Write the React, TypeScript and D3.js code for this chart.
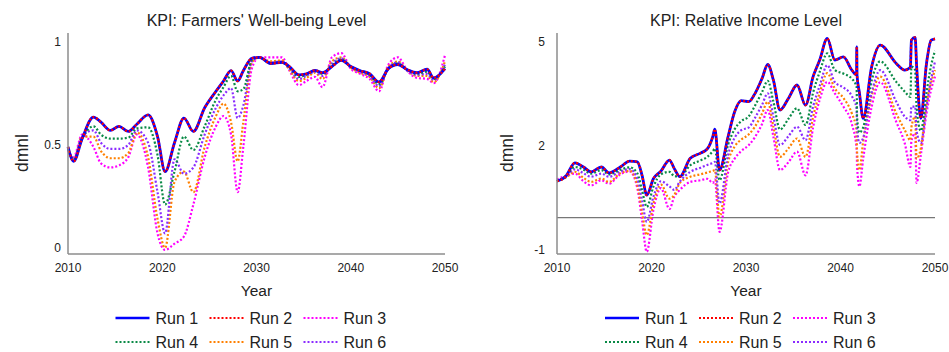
import React from "react";
import * as d3 from "d3";

// ---- data ----
const runNames = ["Run 1", "Run 2", "Run 3", "Run 4", "Run 5", "Run 6"];
const runColors = ["#0000ff", "#ff0000", "#ff00ff", "#0a8a46", "#ff8000", "#8b2cff"];

const wellYears = [2010, 2010.6, 2011.5, 2012.7, 2013.5, 2014.5, 2015.4, 2016.4, 2017.3, 2018.5, 2019.5, 2020.3, 2021.3, 2022.3, 2023.3, 2024.5, 2025.7, 2026.5, 2027.3, 2028.0, 2028.6, 2029.5, 2030.3, 2031.5, 2032.7, 2033.5, 2034.5, 2035.3, 2036.2, 2037.0, 2038.0, 2039.0, 2040.0, 2041.0, 2042.0, 2043.0, 2044.0, 2045.0, 2046.0, 2047.0, 2048.1, 2048.8, 2050];
const wellRun1 = [0.50, 0.43, 0.54, 0.645, 0.62, 0.58, 0.60, 0.575, 0.61, 0.655, 0.55, 0.38, 0.52, 0.64, 0.575, 0.69, 0.77, 0.82, 0.87, 0.82, 0.87, 0.93, 0.935, 0.905, 0.91, 0.89, 0.85, 0.855, 0.872, 0.86, 0.89, 0.92, 0.89, 0.87, 0.855, 0.815, 0.88, 0.90, 0.875, 0.86, 0.877, 0.835, 0.88];
const wellRun2 = wellRun1;
const wellRun3 = [0.48, 0.45, 0.56, 0.50, 0.42, 0.40, 0.41, 0.45, 0.56, 0.40, 0.08, 0.0, 0.03, 0.065, 0.22, 0.45, 0.60, 0.65, 0.56, 0.28, 0.50, 0.88, 0.935, 0.935, 0.935, 0.87, 0.80, 0.82, 0.84, 0.79, 0.935, 0.955, 0.88, 0.855, 0.83, 0.77, 0.9, 0.935, 0.87, 0.835, 0.83, 0.81, 0.945];
const wellRun4 = [0.49, 0.44, 0.54, 0.60, 0.56, 0.54, 0.54, 0.545, 0.59, 0.595, 0.46, 0.22, 0.38, 0.55, 0.485, 0.60, 0.73, 0.79, 0.845, 0.77, 0.78, 0.92, 0.935, 0.905, 0.91, 0.885, 0.84, 0.85, 0.87, 0.855, 0.895, 0.925, 0.89, 0.87, 0.85, 0.805, 0.88, 0.905, 0.875, 0.855, 0.865, 0.83, 0.89];
const wellRun5 = [0.49, 0.44, 0.55, 0.55, 0.48, 0.445, 0.445, 0.47, 0.57, 0.45, 0.15, 0.01, 0.33, 0.38, 0.28, 0.50, 0.65, 0.71, 0.62, 0.43, 0.62, 0.91, 0.935, 0.915, 0.92, 0.875, 0.82, 0.835, 0.86, 0.83, 0.915, 0.935, 0.885, 0.86, 0.84, 0.785, 0.89, 0.915, 0.87, 0.845, 0.845, 0.815, 0.915];
const wellRun6 = [0.49, 0.44, 0.55, 0.58, 0.52, 0.49, 0.49, 0.51, 0.58, 0.52, 0.28, 0.08, 0.44, 0.37, 0.40, 0.56, 0.69, 0.75, 0.785, 0.64, 0.70, 0.915, 0.935, 0.91, 0.915, 0.88, 0.83, 0.845, 0.865, 0.845, 0.905, 0.93, 0.89, 0.865, 0.845, 0.795, 0.885, 0.91, 0.87, 0.85, 0.855, 0.825, 0.90];

const incomeYears = [2010, 2010.9, 2011.9, 2012.8, 2013.6, 2014.7, 2015.5, 2016.7, 2017.7, 2018.5, 2019.0, 2019.5, 2020.2, 2021.0, 2021.9, 2022.4, 2023.0, 2024.1, 2025.2, 2025.9, 2026.5, 2026.7, 2027.2, 2028.1, 2028.8, 2029.5, 2030.3, 2030.9, 2031.7, 2032.3, 2032.9, 2033.6, 2034.5, 2035.4, 2036.3, 2037.1, 2037.8, 2038.6, 2039.4, 2040.3, 2041.2, 2041.7, 2041.72, 2041.75, 2042.0, 2042.4, 2043.3, 2044.2, 2045.9, 2046.8, 2047.4, 2047.5, 2047.9, 2048.05, 2048.5, 2049.1, 2049.6, 2050];
const incomeRun1 = [1.05, 1.18, 1.58, 1.46, 1.32, 1.46, 1.29, 1.46, 1.63, 1.61, 1.22, 0.65, 1.12, 1.34, 1.66, 1.42, 1.18, 1.71, 1.86, 1.98, 2.35, 2.55, 1.37, 2.33, 3.05, 3.37, 3.34, 3.55, 4.01, 4.41, 3.96, 3.10, 3.44, 3.82, 3.24, 4.06, 4.54, 5.16, 4.54, 4.63, 4.25, 4.11, 4.92, 4.10, 3.6, 2.86, 4.35, 4.97, 4.44, 4.25, 4.33, 5.11, 5.19, 4.4, 2.86, 4.44, 5.11, 5.15];
const incomeRun2 = incomeRun1;
const incomeRun3 = [1.1, 1.2, 1.27, 1.05, 0.93, 1.08, 0.98, 1.25, 1.33, 0.85, -0.07, -0.98, 0.22, 0.85, 0.25, 0.6, 0.8, 1.03, 1.08, 1.12, 1.0, 1.1, -0.41, 1.3, 1.7, 1.92, 2.09, 2.3, 2.7, 3.10, 2.33, 1.37, 1.6, 1.9, 1.22, 2.6, 3.4, 3.91, 3.58, 3.2, 2.7, 2.0, 1.9, 1.5, 0.9, 1.7, 3.2, 3.9, 2.76, 2.14, 1.46, 2.2, 2.43, 1.0, 1.8, 3.0, 3.7, 4.06];
const incomeRun4 = [1.05, 1.2, 1.46, 1.38, 1.27, 1.37, 1.25, 1.38, 1.45, 1.28, 0.79, 0.31, 0.89, 1.25, 1.32, 1.2, 1.18, 1.51, 1.65, 1.75, 1.92, 1.99, 1.08, 2.10, 2.55, 2.78, 2.92, 3.2, 3.62, 3.94, 3.34, 2.54, 2.85, 3.15, 2.67, 3.6, 4.2, 4.73, 4.25, 4.15, 4.0, 3.77, 3.6, 2.9, 2.45, 2.6, 3.95, 4.5, 3.91, 3.63, 3.48, 4.35, 4.25, 3.2, 2.5, 3.6, 4.4, 4.8];
const incomeRun5 = [1.05, 1.15, 1.32, 1.15, 1.03, 1.13, 1.03, 1.28, 1.35, 0.95, 0.17, -0.50, 0.41, 0.95, 0.55, 0.65, 1.0, 1.18, 1.25, 1.30, 1.35, 1.37, 0.02, 1.60, 2.05, 2.25, 2.40, 2.6, 3.0, 3.34, 2.62, 1.75, 2.0, 2.28, 1.75, 2.9, 3.6, 4.16, 3.72, 3.45, 3.0, 2.52, 2.3, 1.9, 1.37, 2.2, 3.5, 4.06, 3.0, 2.52, 2.23, 2.6, 2.91, 1.7, 2.0, 3.3, 3.9, 4.25];
const incomeRun6 = [1.05, 1.18, 1.39, 1.28, 1.18, 1.27, 1.18, 1.33, 1.40, 1.12, 0.50, -0.12, 0.6, 1.05, 0.9, 0.8, 1.04, 1.32, 1.44, 1.52, 1.58, 1.61, 0.41, 1.80, 2.30, 2.52, 2.60, 2.85, 3.25, 3.58, 2.91, 2.09, 2.35, 2.62, 2.23, 3.2, 3.8, 4.39, 3.9, 3.75, 3.5, 3.15, 3.0, 2.6, 2.15, 2.3, 3.6, 4.25, 3.34, 2.91, 2.81, 3.2, 3.2, 2.5, 2.15, 3.2, 4.0, 4.49];

const xTicks = [2010, 2020, 2030, 2040, 2050];
const wellTicks = [0, 0.5, 1];
const wellTickLabels = ["0", "0.5", "1"];
const incomeTicks = [-1, 2, 5];
const incomeTickLabels = ["-1", "2", "5"];

const FONT = "'Liberation Sans', Arial, Helvetica, sans-serif";
const drawOrder = [2, 4, 5, 3, 0, 1];

type PanelProps = {
  left: number;
  right: number;
  title: string;
  years: number[];
  runs: number[][];
  yDomain: [number, number];
  ticks: number[];
  tickLabels: string[];
  tickLabelX: number;
  yLabelX: number;
  zeroLine?: boolean;
};

function Panel({ left, right, title, years, runs, yDomain, ticks, tickLabels, tickLabelX, yLabelX, zeroLine }: PanelProps) {
  const top = 33;
  const bottom = 254;
  const x = d3.scaleLinear().domain([2010, 2050]).range([left, right]);
  const y = d3.scaleLinear().domain(yDomain).range([bottom, top]);
  const line = d3
    .line<number>()
    .x((_, i) => x(years[i]))
    .y((d) => y(d))
    .curve(d3.curveMonotoneX);
  const cx = (left + right) / 2;

  return (
    <g fontFamily={FONT} fill="#222">
      <text x={cx} y={20} textAnchor="middle" dominantBaseline="central" fontSize={16}>
        {title}
      </text>
      {zeroLine && (
        <line x1={left} x2={right} y1={y(0)} y2={y(0)} stroke="#777" strokeWidth={1.2} />
      )}
      {drawOrder.map((r) => (
        <path
          key={r}
          d={line(runs[r]) || ""}
          fill="none"
          stroke={runColors[r]}
          strokeWidth={r === 0 ? 2.8 : 2.2}
          strokeDasharray={r === 0 ? undefined : "2 2"}
        />
      ))}
      <line x1={left} x2={left} y1={top} y2={bottom} stroke="#8c8c8c" strokeWidth={1.5} />
      <line x1={left} x2={right} y1={bottom} y2={bottom} stroke="#8c8c8c" strokeWidth={1.5} />
      {ticks.map((t, i) => (
        <text key={t} x={tickLabelX} y={y(t) - 2} textAnchor="end" dominantBaseline="central" fontSize={12}>
          {tickLabels[i]}
        </text>
      ))}
      {xTicks.map((t) => (
        <text key={t} x={x(t)} y={268} textAnchor="middle" dominantBaseline="central" fontSize={12}>
          {t}
        </text>
      ))}
      <text
        transform={`translate(${yLabelX},153) rotate(-90)`}
        textAnchor="middle"
        dominantBaseline="central"
        fontSize={17.5}
      >
        dmnl
      </text>
      <text x={cx} y={290} textAnchor="middle" dominantBaseline="central" fontSize={15.5}>
        Year
      </text>
      {runNames.map((name, i) => {
        const col = i % 3;
        const row = Math.floor(i / 3);
        const lx = cx - 141 + col * 94;
        const ly = 318 + row * 24;
        return (
          <g key={name}>
            <line
              x1={lx}
              x2={lx + 34}
              y1={ly}
              y2={ly}
              stroke={runColors[i]}
              strokeWidth={i === 0 ? 2.4 : 2.2}
              strokeDasharray={i === 0 ? undefined : "2 2"}
            />
            <text x={lx + 40} y={ly} dominantBaseline="central" fontSize={16}>
              {name}
            </text>
          </g>
        );
      })}
    </g>
  );
}

export default function App() {
  const wellRuns = [wellRun1, wellRun2, wellRun3, wellRun4, wellRun5, wellRun6];
  const incomeRuns = [incomeRun1, incomeRun2, incomeRun3, incomeRun4, incomeRun5, incomeRun6];
  return (
    <svg
      width={949}
      height={352}
      style={{ position: "fixed", left: 0, top: 0, background: "#fff" }}
    >
      <Panel
        left={68}
        right={445}
        title="KPI: Farmers' Well-being Level"
        years={wellYears}
        runs={wellRuns}
        yDomain={[-0.02, 1.053]}
        ticks={wellTicks}
        tickLabels={wellTickLabels}
        tickLabelX={61}
        yLabelX={22}
      />
      <Panel
        left={557}
        right={935}
        title="KPI: Relative Income Level"
        years={incomeYears}
        runs={incomeRuns}
        yDomain={[-1.045, 5.317]}
        ticks={incomeTicks}
        tickLabels={incomeTickLabels}
        tickLabelX={545}
        yLabelX={507}
        zeroLine
      />
    </svg>
  );
}
